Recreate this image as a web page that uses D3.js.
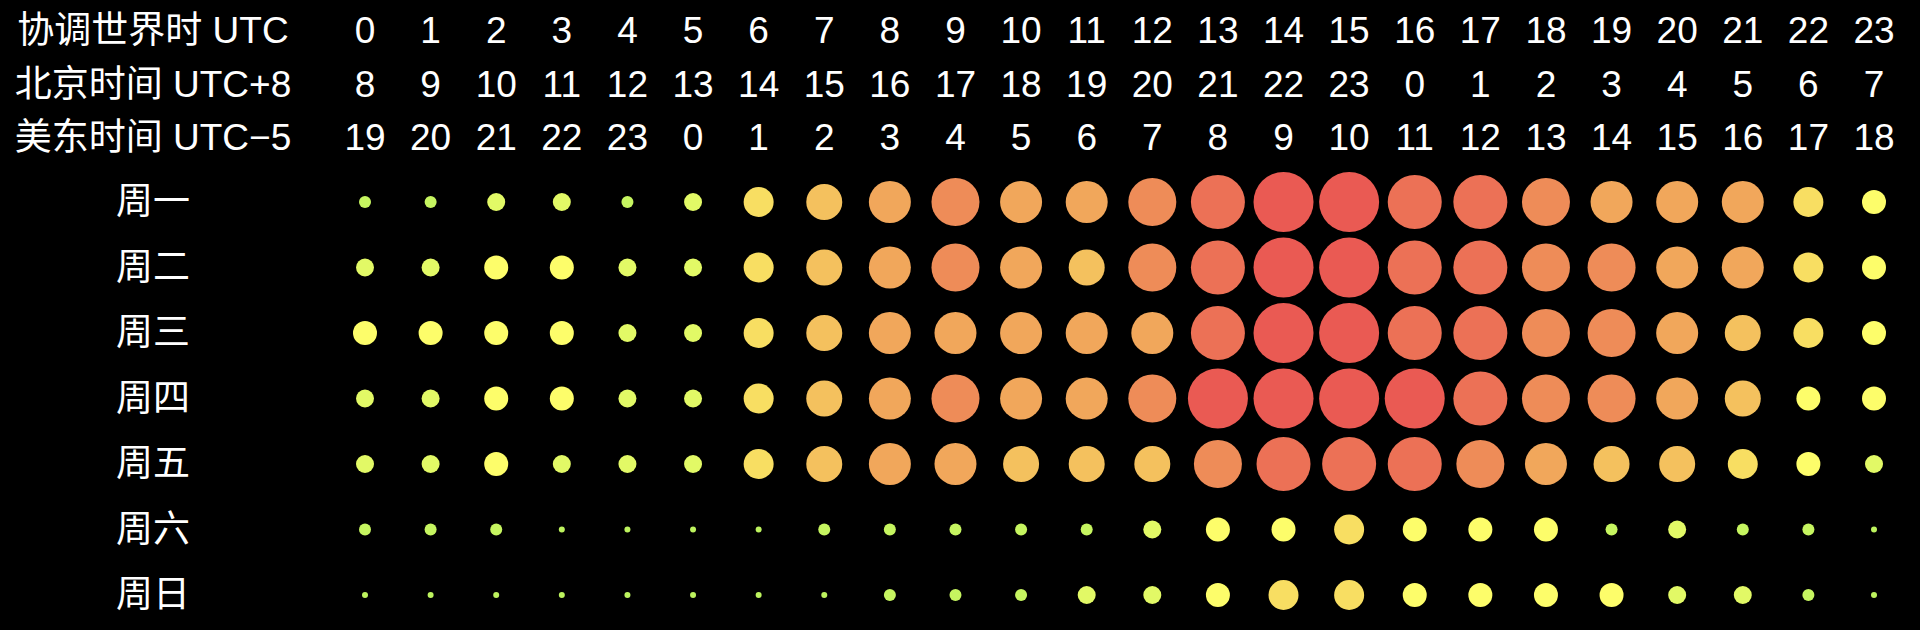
<!DOCTYPE html>
<html>
<head>
<meta charset="utf-8">
<script src="https://cdn.jsdelivr.net/npm/d3@7"></script>
<style>
  html, body { margin: 0; padding: 0; background: #000; }
  svg { display: block; }
  text { font-family: "Liberation Sans", "Noto Sans CJK SC", sans-serif; fill: #fff; }
</style>
</head>
<body>
<svg id="chart" width="1920" height="630"></svg>
<script>
// ---- data ----
const headerLabels = ["协调世界时 UTC", "北京时间 UTC+8", "美东时间 UTC−5"];
const utcHours = ["0","1","2","3","4","5","6","7","8","9","10","11","12","13","14","15","16","17","18","19","20","21","22","23"];
const beijingHours = ["8","9","10","11","12","13","14","15","16","17","18","19","20","21","22","23","0","1","2","3","4","5","6","7"];
const easternHours = ["19","20","21","22","23","0","1","2","3","4","5","6","7","8","9","10","11","12","13","14","15","16","17","18"];
const days = ["周一", "周二", "周三", "周四", "周五", "周六", "周日"];

const mon = [2,2,3,3,2,3,5,6,7,8,7,7,8,9,10,10,9,9,8,7,7,7,5,4];
const tue = [3,3,4,4,3,3,5,6,7,8,7,6,8,9,10,10,9,9,8,8,7,7,5,4];
const wed = [4,4,4,4,3,3,5,6,7,7,7,7,7,9,10,10,9,9,8,8,7,6,5,4];
const thu = [3,3,4,4,3,3,5,6,7,8,7,7,8,10,10,10,10,9,8,8,7,6,4,4];
const fri = [3,3,4,3,3,3,5,6,7,7,6,6,6,8,9,9,9,8,7,6,6,5,4,3];
const sat = [2,2,2,1,1,1,1,2,2,2,2,2,3,4,4,5,4,4,4,2,3,2,2,1];
const sun = [1,1,1,1,1,1,1,1,2,2,2,3,3,4,5,5,4,4,4,4,3,3,2,1];
const seriesValues = [mon, tue, wed, thu, fri, sat, sun];

// ---- build ----
const cells = [];
seriesValues.forEach((row, di) => row.forEach((v, hi) => cells.push({day: days[di], hour: utcHours[hi], value: v})));

const svg = d3.select("#chart");
const fontSize = 37;
const labelX = 153;

const x = d3.scalePoint().domain(utcHours).range([365, 1874]);
const y = d3.scalePoint().domain(days).range([202, 595]);
const r = d3.scaleLinear().domain([0, 10]).range([0, 30]);
const color = d3.scaleLinear()
  .domain([1, 2, 3, 4, 5, 6, 7, 8, 9, 10])
  .range(["#bdf35e", "#c6f560", "#e2f966", "#fdfd6a", "#f8de62", "#f4c15e", "#f1a75b", "#ee8c58", "#ec7156", "#ea5a53"]);

const headerRows = [utcHours, beijingHours, easternHours];
const headerY = d3.scalePoint().domain(d3.range(3)).range([43, 150]);

// header labels
svg.append("g").selectAll("text")
  .data(headerLabels)
  .join("text")
  .attr("x", labelX)
  .attr("y", (d, i) => headerY(i))
  .attr("text-anchor", "middle")
  .attr("font-size", fontSize)
  .text(d => d);

// header hour numbers
headerRows.forEach((labels, ri) => {
  svg.append("g").selectAll("text")
    .data(labels)
    .join("text")
    .attr("x", (d, i) => x(utcHours[i]))
    .attr("y", headerY(ri))
    .attr("text-anchor", "middle")
    .attr("font-size", fontSize)
    .text(d => d);
});

// day labels
svg.append("g").selectAll("text")
  .data(days)
  .join("text")
  .attr("x", labelX)
  .attr("y", d => y(d) + 12)
  .attr("text-anchor", "middle")
  .attr("font-size", fontSize)
  .text(d => d);

// dots
svg.append("g").selectAll("circle")
  .data(cells)
  .join("circle")
  .attr("cx", d => x(d.hour))
  .attr("cy", d => y(d.day))
  .attr("r", d => r(d.value))
  .attr("fill", d => color(d.value));
</script>
</body>
</html>
